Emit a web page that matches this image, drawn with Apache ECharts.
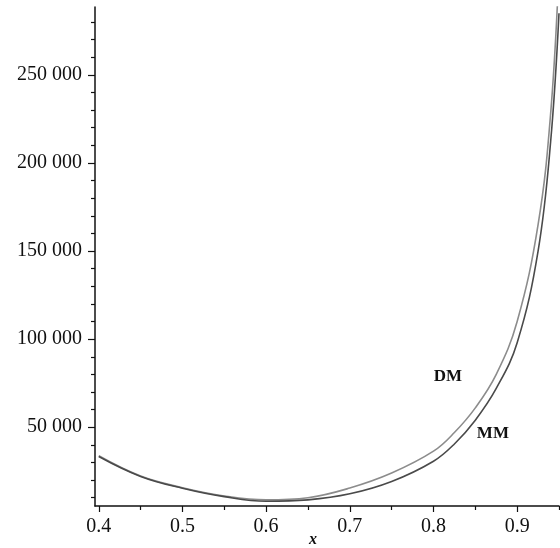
<!DOCTYPE html>
<html>
<head>
<meta charset="utf-8">
<script src="https://cdn.jsdelivr.net/npm/echarts@6/dist/echarts.min.js"></script>
<style>
  html, body { margin: 0; padding: 0; background: #fff; }
  #chart { width: 560px; height: 548px; }
</style>
</head>
<body>
<div id="chart"></div>
<script>
var xValues = [0.4, 0.45, 0.5, 0.55, 0.6, 0.65, 0.7, 0.75, 0.8, 0.825, 0.85, 0.875, 0.9, 0.925, 0.94, 0.95];
var dmValues = [33800, 22300, 15700, 11000, 8800, 10000, 15500, 24000, 36400, 47000, 61000, 80000, 110000, 165000, 228000, 310000];
var mmValues = [33400, 22100, 15400, 10600, 8000, 8800, 12200, 19200, 30700, 40500, 54000, 72000, 98000, 150000, 212000, 285000];

var xTickLabels = [0.4, 0.5, 0.6, 0.7, 0.8, 0.9];
var xMinorTicks = [0.45, 0.55, 0.65, 0.75, 0.85, 0.95];
var yTickLabels = [50000, 100000, 150000, 200000, 250000];
var yMinorTicks = [10000, 20000, 30000, 40000, 60000, 70000, 80000, 90000,
  110000, 120000, 130000, 140000, 160000, 170000, 180000, 190000,
  210000, 220000, 230000, 240000, 260000, 270000, 280000];

var xMin = 0.3955, xMax = 0.95;
var yMin = 5300, yMax = 288500;

function pairs(ys) {
  return xValues.map(function (x, i) { return [x, ys[i]]; });
}

(function () {
  var myChart = echarts.init(document.getElementById("chart"));
  var font = "Liberation Serif";
  var axisCol = "#111";

  var option = {
    animation: false,
    backgroundColor: "#fff",
    grid: { left: 95, right: 1, top: 7, bottom: 42 },
    xAxis: [
      {
        type: "value",
        min: xMin,
        max: xMax,
        axisLine: { lineStyle: { color: axisCol, width: 1.5 } },
        axisTick: { customValues: xTickLabels, length: 6, lineStyle: { color: axisCol, width: 1.2 } },
        axisLabel: {
          customValues: xTickLabels,
          margin: 11,
          color: "#111",
          fontFamily: font,
          fontSize: 20,
          formatter: function (v) { return v.toFixed(1); }
        },
        splitLine: { show: false }
      },
      {
        // minor ticks only
        type: "value",
        position: "bottom",
        min: xMin,
        max: xMax,
        axisLine: { show: false },
        axisTick: { customValues: xMinorTicks, length: 4, lineStyle: { color: axisCol, width: 1.2 } },
        axisLabel: { show: false },
        splitLine: { show: false }
      }
    ],
    yAxis: [
      {
        type: "value",
        min: yMin,
        max: yMax,
        axisLine: { show: true, lineStyle: { color: axisCol, width: 1.5 } },
        axisTick: { show: true, customValues: yTickLabels, length: 7, lineStyle: { color: axisCol, width: 1.2 } },
        axisLabel: {
          customValues: yTickLabels,
          margin: 13,
          color: "#111",
          fontFamily: font,
          fontSize: 20,
          formatter: function (v) {
            return String(v).replace(/\B(?=(\d{3})+(?!\d))/g, " ");
          }
        },
        splitLine: { show: false }
      },
      {
        type: "value",
        position: "left",
        min: yMin,
        max: yMax,
        axisLine: { show: false },
        axisTick: { show: true, customValues: yMinorTicks, length: 4, lineStyle: { color: axisCol, width: 1.2 } },
        axisLabel: { show: false },
        splitLine: { show: false }
      }
    ],
    series: [
      {
        name: "DM",
        type: "line",
        data: pairs(dmValues),
        smooth: 0.4,
        showSymbol: false,
        clip: true,
        lineStyle: { color: "#8c8c8c", width: 1.6 },
        markPoint: {
          symbolSize: 0,
          data: [{ coord: [0.8173, 78700], value: "DM" }],
          label: { show: true, formatter: "DM", color: "#111", fontFamily: font, fontWeight: "bold", fontSize: 17, position: "inside" }
        }
      },
      {
        name: "MM",
        type: "line",
        data: pairs(mmValues),
        smooth: 0.4,
        showSymbol: false,
        clip: true,
        lineStyle: { color: "#4a4a4a", width: 1.6 },
        markPoint: {
          symbolSize: 0,
          data: [{ coord: [0.871, 46400], value: "MM" }],
          label: { show: true, formatter: "MM", color: "#111", fontFamily: font, fontWeight: "bold", fontSize: 17, position: "inside" }
        }
      }
    ],
    graphic: [
      {
        type: "text",
        left: 309,
        top: 532,
        style: { text: "x", fill: "#111", font: "italic bold 16px 'Liberation Serif'" }
      }
    ]
  };

  myChart.setOption(option);
  window.addEventListener("resize", function () {
    myChart.resize();
  });
})();
</script>
</body>
</html>
